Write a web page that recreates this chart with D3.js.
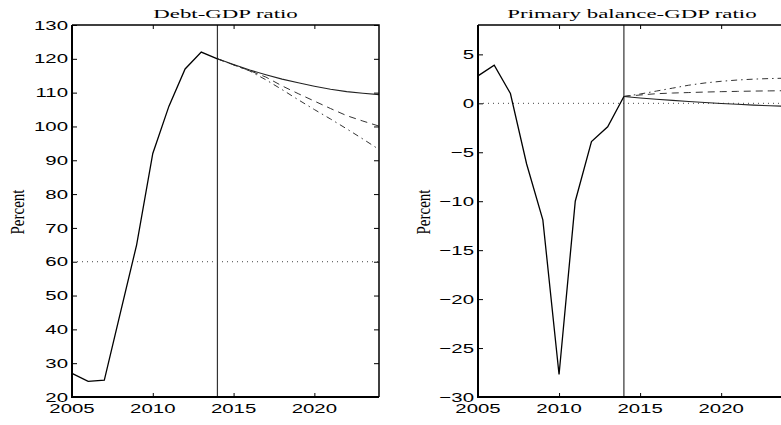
<!DOCTYPE html>
<html>
<head>
<meta charset="utf-8">
<script src="https://cdn.jsdelivr.net/npm/d3@7"></script>
<style>
body { margin: 0; background: #fff; }
svg { display: block; }
</style>
</head>
<body>
<svg id="fig" width="781" height="425"></svg>
<script>
// history and projections
var histYears = [2005, 2006, 2007, 2008, 2009, 2010, 2011, 2012, 2013, 2014];
var projYears = [2014, 2015, 2016, 2017, 2018, 2019, 2020, 2021, 2022, 2023, 2024];

var debtHist    = [27, 24.6, 25, 45, 65, 92, 106, 117, 122, 120];
var debtBase    = [120, 118.3, 116.7, 115.3, 114.0, 112.9, 111.9, 111.0, 110.3, 109.8, 109.4];
var debtDash    = [120, 118.2, 116.5, 114.6, 112.0, 109.7, 107.5, 105.3, 103.2, 101.6, 100.1];
var debtDashDot = [120, 118.2, 116.4, 113.8, 110.9, 107.9, 105.0, 102.2, 99.3, 96.3, 93.2];

var pbHist    = [2.8, 3.9, 1.0, -6.2, -11.9, -27.7, -10.0, -3.9, -2.4, 0.7];
var pbBase    = [0.7, 0.55, 0.42, 0.3, 0.18, 0.08, -0.02, -0.1, -0.18, -0.25, -0.3];
var pbDash    = [0.7, 0.85, 0.98, 1.05, 1.1, 1.15, 1.19, 1.22, 1.25, 1.27, 1.29];
var pbDashDot = [0.7, 0.95, 1.25, 1.55, 1.85, 2.08, 2.25, 2.38, 2.47, 2.53, 2.57];

var xTicks = [2005, 2010, 2015, 2020];
var debtTicks = [20, 30, 40, 50, 60, 70, 80, 90, 100, 110, 120, 130];
var pbTicks = [-30, -25, -20, -15, -10, -5, 0, 5];

var svg = d3.select("#fig");

// the picture is stretched sideways, so text is too
var SX_TICK = 1.57, SX_TITLE = 1.76, SX_YLAB = 1.32;

function stretchText(g, x, y, sx, txt, opts) {
    var t = g.append("g")
        .attr("transform", "translate(" + x + "," + y + ") scale(" + sx + ",1)" + (opts.rotate ? " rotate(-90)" : ""))
        .append("text")
        .attr("text-anchor", opts.anchor || "middle")
        .attr("font-family", opts.family)
        .attr("font-size", opts.size)
        .attr("fill", "#000")
        .text(txt);
    return t;
}

function drawPanel(p) {
    var g = svg.append("g");
    var x = d3.scaleLinear().domain([2005, 2024]).range([p.left, p.right]);
    var y = d3.scaleLinear().domain(p.yDomain).range([397, 25]);

    // x ticks, inward, bottom and top
    g.append("g").attr("transform", "translate(0,397)")
        .call(d3.axisBottom(x).tickValues(xTicks).tickSize(-4).tickSizeOuter(0).tickFormat(""))
        .call(function (a) { a.select(".domain").remove(); });
    g.append("g").attr("transform", "translate(0,25)")
        .call(d3.axisTop(x).tickValues(xTicks).tickSize(-4).tickSizeOuter(0).tickFormat(""))
        .call(function (a) { a.select(".domain").remove(); });
    g.append("g").attr("transform", "translate(" + p.left + ",0)")
        .call(d3.axisLeft(y).tickValues(p.yTicks).tickSize(-5).tickSizeOuter(0).tickFormat(""))
        .call(function (a) { a.select(".domain").remove(); });
    g.append("g").attr("transform", "translate(" + p.right + ",0)")
        .call(d3.axisRight(y).tickValues(p.yTicks).tickSize(-5).tickSizeOuter(0).tickFormat(""))
        .call(function (a) { a.select(".domain").remove(); });
    g.selectAll(".tick line").attr("stroke", "#000").attr("stroke-width", 1);

    // tick labels
    xTicks.forEach(function (v) {
        stretchText(g, x(v), 413, SX_TICK, v, {family: "Liberation Sans, Arial, sans-serif", size: 13});
    });
    p.yTicks.forEach(function (v) {
        stretchText(g, p.left - 4, y(v) + 4.6, SX_TICK, d3.format("")(v).replace("-", "\u2212"),
            {family: "Liberation Sans, Arial, sans-serif", size: 13, anchor: "end"});
    });

    // reference lines
    g.append("line")
        .attr("x1", p.left).attr("x2", p.right)
        .attr("y1", y(p.ref)).attr("y2", y(p.ref))
        .attr("stroke", "#444").attr("stroke-width", 1).attr("stroke-dasharray", "1,4");
    g.append("line")
        .attr("x1", x(2014)).attr("x2", x(2014))
        .attr("y1", 25).attr("y2", 397)
        .attr("stroke", "#333").attr("stroke-width", 1.2);

    var line = d3.line().x(function (d) { return x(d[0]); }).y(function (d) { return y(d[1]); });
    function series(yrs, vals, dash, col, w) {
        g.append("path")
            .datum(d3.zip(yrs, vals))
            .attr("d", line)
            .attr("fill", "none")
            .attr("stroke", col)
            .attr("stroke-width", w)
            .attr("stroke-dasharray", dash);
    }
    series(projYears, p.dashdot, "6,4,1.5,4", "#333", 1);
    series(projYears, p.dash, "7,5", "#333", 1);
    series(projYears, p.base, null, "#222", 1.1);
    series(histYears, p.hist, null, "#000", 1.3);

    // box
    g.append("path")
        .attr("d", "M" + p.left + ",25H" + p.right + "V397")
        .attr("fill", "none").attr("stroke", "#000").attr("stroke-width", 1.5);
    g.append("path")
        .attr("d", "M" + p.left + ",25V397H" + p.right)
        .attr("fill", "none").attr("stroke", "#000").attr("stroke-width", 2);

    // title and y label
    stretchText(g, (p.left + p.right) / 2, 17.5, SX_TITLE, p.title,
        {family: "Liberation Serif, Times New Roman, serif", size: 13});
    stretchText(g, p.ylabX, 212, SX_YLAB, "Percent",
        {family: "Liberation Serif, Times New Roman, serif", size: 15, rotate: true});
}

drawPanel({
    left: 72, right: 379, yDomain: [20, 130], yTicks: debtTicks, ref: 60,
    hist: debtHist, base: debtBase, dash: debtDash, dashdot: debtDashDot,
    title: "Debt-GDP ratio", ylabX: 23.5
});
drawPanel({
    left: 478, right: 786, yDomain: [-30, 8], yTicks: pbTicks, ref: 0,
    hist: pbHist, base: pbBase, dash: pbDash, dashdot: pbDashDot,
    title: "Primary balance-GDP ratio", ylabX: 429.5
});
</script>
</body>
</html>
